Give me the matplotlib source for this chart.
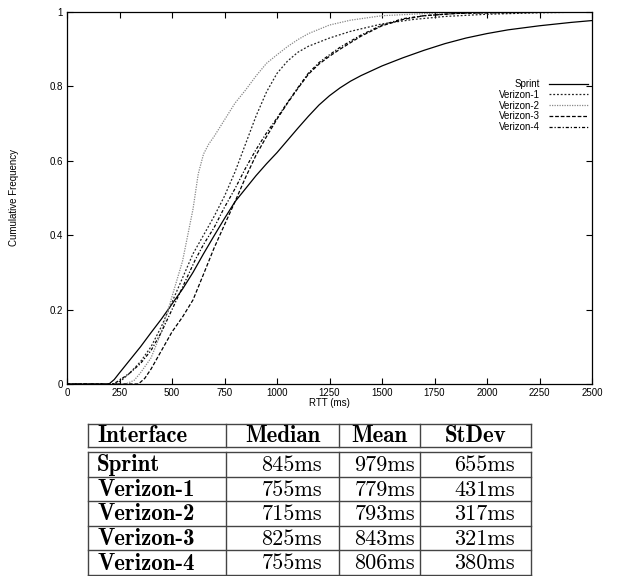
import numpy as np
import matplotlib
matplotlib.use("Agg")
import matplotlib.pyplot as plt
import matplotlib.ticker as ticker
from matplotlib.lines import Line2D

# CDF curves (RTT in ms, cumulative frequency)
sprint_x = [0, 200, 225, 250, 300, 350, 400, 450, 500, 550, 600, 650, 700, 750, 800, 850, 900,
            950, 1000, 1050, 1100, 1150, 1200, 1250, 1300, 1350, 1400, 1500, 1600, 1700, 1800,
            1900, 2000, 2100, 2250, 2400, 2500]
sprint_y = [0, 0, 0.012, 0.03, 0.065, 0.10, 0.138, 0.175, 0.215, 0.255, 0.30, 0.35, 0.398, 0.445,
            0.49, 0.525, 0.56, 0.592, 0.622, 0.655, 0.688, 0.72, 0.75, 0.775, 0.796, 0.814, 0.829,
            0.855, 0.877, 0.897, 0.915, 0.93, 0.942, 0.952, 0.963, 0.972, 0.977]

v1_x = [0, 230, 260, 300, 350, 400, 450, 500, 550, 600, 650, 700, 750, 800, 850, 900, 950, 1000,
        1050, 1100, 1150, 1250, 1350, 1500, 1650, 1800, 2000, 2250, 2500]
v1_y = [0, 0, 0.01, 0.03, 0.06, 0.10, 0.155, 0.22, 0.285, 0.35, 0.40, 0.45, 0.505, 0.57, 0.645,
        0.72, 0.785, 0.835, 0.868, 0.892, 0.908, 0.93, 0.948, 0.968, 0.98, 0.988, 0.994, 0.998, 1.0]

v2_x = [0, 280, 320, 350, 400, 450, 500, 550, 600, 625, 650, 675, 700, 750, 800, 850, 900, 950,
        1000, 1050, 1100, 1150, 1250, 1350, 1500, 1750, 2000, 2500]
v2_y = [0, 0, 0.01, 0.03, 0.07, 0.14, 0.235, 0.33, 0.47, 0.565, 0.618, 0.645, 0.665, 0.71, 0.755,
        0.79, 0.828, 0.862, 0.885, 0.907, 0.926, 0.942, 0.965, 0.978, 0.99, 0.997, 1.0, 1.0]

v3_x = [0, 340, 370, 400, 450, 500, 550, 600, 650, 700, 750, 800, 850, 900, 950, 1000, 1050, 1100,
        1150, 1200, 1250, 1300, 1400, 1500, 1600, 1700, 1850, 2000, 2500]
v3_y = [0, 0, 0.015, 0.04, 0.09, 0.14, 0.18, 0.226, 0.295, 0.365, 0.428, 0.49, 0.555, 0.615, 0.665,
        0.712, 0.755, 0.795, 0.833, 0.86, 0.881, 0.90, 0.935, 0.963, 0.98, 0.99, 0.996, 0.998, 1.0]

v4_x = [0, 220, 250, 300, 350, 400, 450, 500, 550, 610, 650, 700, 750, 800, 850, 900, 950, 1000,
        1050, 1100, 1150, 1200, 1250, 1300, 1400, 1500, 1600, 1700, 1850, 2000, 2500]
v4_y = [0, 0, 0.01, 0.03, 0.055, 0.09, 0.14, 0.20, 0.26, 0.333, 0.375, 0.42, 0.475, 0.525, 0.58,
        0.63, 0.675, 0.715, 0.757, 0.797, 0.836, 0.864, 0.885, 0.905, 0.938, 0.965, 0.982, 0.99,
        0.996, 0.998, 1.0]

# table values
interfaces = ["Sprint", "Verizon-1", "Verizon-2", "Verizon-3", "Verizon-4"]
medians = ["845ms", "755ms", "715ms", "825ms", "755ms"]
means = ["979ms", "779ms", "793ms", "843ms", "806ms"]
stdevs = ["655ms", "431ms", "317ms", "321ms", "380ms"]
headers = ["Interface", "Median", "Mean", "StDev"]

W, H = 620, 576
fig = plt.figure(figsize=(W / 100, H / 100), dpi=100)
ax = fig.add_axes([67 / W, 1 - 384 / H, 525 / W, 372 / H])

sans = "Liberation Sans"
ax.plot(sprint_x, sprint_y, color="black", lw=0.9, label="Sprint")
ax.plot(v1_x, v1_y, color="#222222", lw=0.9, ls=(0, (1.5, 1.5)), label="Verizon-1")
ax.plot(v2_x, v2_y, color="#888888", lw=0.9, ls=(0, (1, 1)), label="Verizon-2")
ax.plot(v3_x, v3_y, color="black", lw=0.9, ls=(0, (3, 1.5)), label="Verizon-3")
ax.plot(v4_x, v4_y, color="black", lw=0.9, ls=(0, (2.5, 1.5, 1, 1.5)), label="Verizon-4")

ax.set_xlim(0, 2500)
ax.set_ylim(0, 1)
ax.xaxis.set_major_locator(ticker.MultipleLocator(250))
ax.yaxis.set_major_locator(ticker.MultipleLocator(0.2))
ax.yaxis.set_major_formatter(ticker.FuncFormatter(lambda v, p: "%g" % round(v, 1)))
ax.tick_params(direction="in", length=4.5, width=0.8, top=True, right=True,
               labelsize=7, pad=3)
for lab in ax.get_xticklabels() + ax.get_yticklabels():
    lab.set_fontfamily(sans)
for s in ax.spines.values():
    s.set_linewidth(0.9)

ax.set_xlabel("RTT (ms)", fontsize=7, fontfamily=sans, labelpad=0)
ax.set_ylabel("Cumulative Frequency", fontsize=7, fontfamily=sans, labelpad=22)

leg = ax.legend(loc="upper right", bbox_to_anchor=((588 - 67) / 525, (384 - 79) / 372),
                frameon=False, markerfirst=False, handlelength=4.0,
                handletextpad=0.9, labelspacing=0.08, borderpad=0, borderaxespad=0,
                prop={"family": sans, "size": 7})

# table below the plot, in pixel coordinates of the figure
def fx(px):
    return px / W

def fy(py):
    return 1 - py / H

lc = "#444444"
x_left, x_right = 88, 531
col_x = [226, 339, 420]
head_top, head_bot = 424, 447
body_top, body_bot = 452, 575
row_h = (body_bot - body_top) / len(interfaces)

def hline(py):
    fig.add_artist(Line2D([fx(x_left), fx(x_right)], [fy(py), fy(py)], color=lc, lw=1.0))

def vline(px, y0, y1):
    fig.add_artist(Line2D([fx(px), fx(px)], [fy(y0), fy(y1)], color=lc, lw=1.0))

hline(head_top)
hline(head_bot)
hline(body_top)
hline(body_bot)
for i in range(1, len(interfaces)):
    hline(body_top + i * row_h)
for px in [x_left] + col_x + [x_right]:
    vline(px, head_top, head_bot)
    vline(px, body_top, body_bot)

fs_b = 16.5
fs_r = 16
head_cy = (head_top + head_bot) / 2 + 1
fig.text(fx(97), fy(head_cy), headers[0], family="cmb10", fontsize=fs_b, ha="left", va="center")
edges = col_x + [x_right]
for j in range(1, 4):
    cx = (edges[j - 1] + edges[j]) / 2
    fig.text(fx(cx), fy(head_cy), headers[j], family="cmb10", fontsize=fs_b, ha="center", va="center")

right_edges = [322, 415, 515]
for i, name in enumerate(interfaces):
    cy = body_top + (i + 0.5) * row_h + 1
    fig.text(fx(97), fy(cy), name, family="cmb10", fontsize=fs_b, ha="left", va="center")
    for r, col in zip(right_edges, [medians, means, stdevs]):
        fig.text(fx(r), fy(cy), col[i], family="cmr10", fontsize=fs_r, ha="right", va="center")

fig.savefig("out.png", dpi=100)
